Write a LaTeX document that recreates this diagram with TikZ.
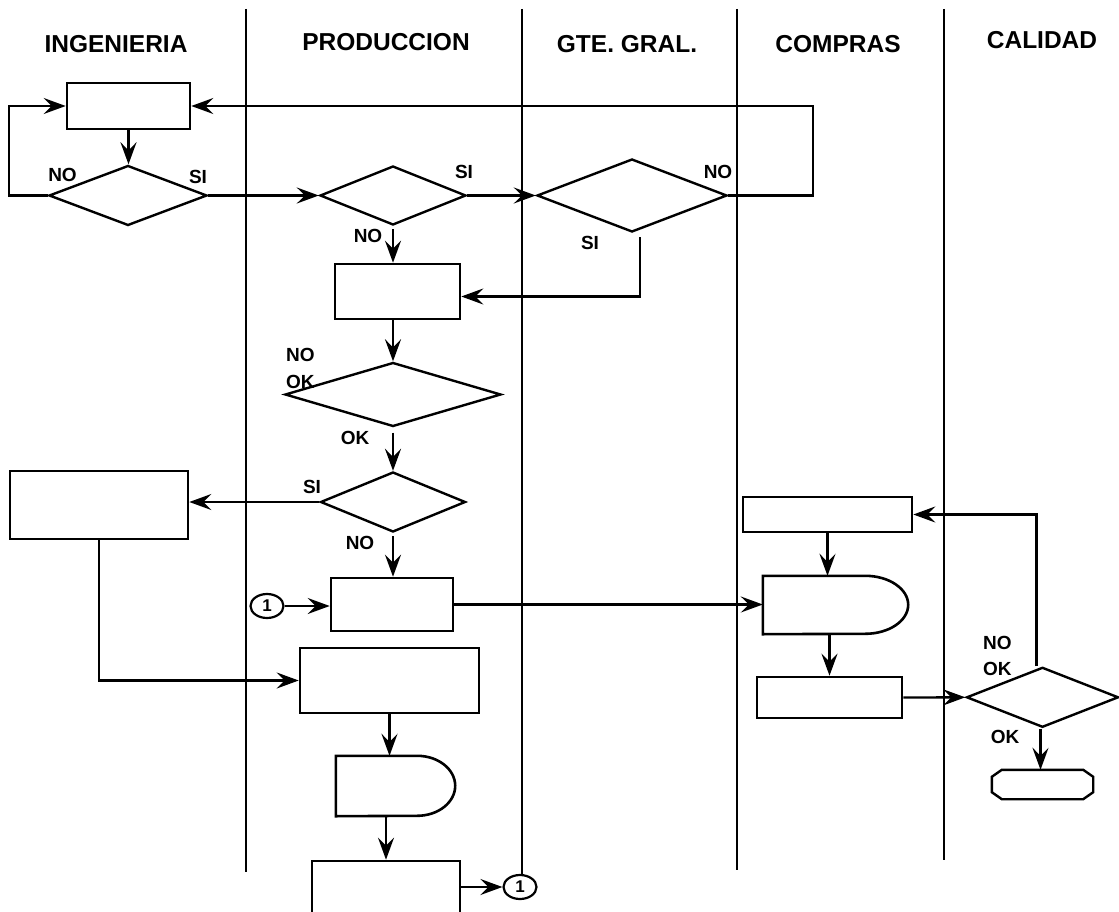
\documentclass[tikz,border=0pt]{standalone}
\usepackage{fontspec}
\setmainfont{Liberation Sans}
\usetikzlibrary{shapes.geometric,arrows.meta,calc}
\begin{document}
\begin{tikzpicture}[x=1pt,y=-1pt,
  box/.style={draw,line width=2.6pt,rectangle,inner sep=0pt},
  dia/.style={draw,line width=2.4pt,diamond,inner sep=0pt},
  ghost/.style={rectangle,inner sep=0pt,draw=none},
  con/.style={line width=2.3pt},
  arr/.style={con,-{Stealth[length=22pt,width=16pt,inset=8pt]}},
  lane/.style={line width=2.2pt},
  head/.style={font=\fontsize{24.5}{28}\selectfont\bfseries,inner sep=0pt},
  lab/.style={font=\fontsize{19}{22}\selectfont\bfseries,inner sep=0pt},
  conn/.style={draw,ellipse,line width=2.2pt,inner sep=0pt,minimum width=33pt,minimum height=24pt,font=\fontsize{17}{19}\selectfont\bfseries}]
\useasboundingbox (0,0) rectangle (1119,912);
\fill[white] (0,0) rectangle (1119,912);
\clip (0,0) rectangle (1119,912);

% lanes
\draw[lane] (246,9) -- (246,872);
\draw[lane] (522,9) -- (522,874);
\draw[lane] (737,9) -- (737,870);
\draw[lane] (944,9) -- (944,860);

% headers
\node[head] (hIng) at (116,44) {INGENIERIA};
\node[head] (hPro) at (386,42) {PRODUCCION};
\node[head] (hGte) at (627,44) {GTE. GRAL.};
\node[head] (hCom) at (838,44) {COMPRAS};
\node[head] (hCal) at (1042,40) {CALIDAD};

% shapes
\node[box,minimum width=123pt,minimum height=46pt] (b1) at (128.5,106) {};
\node[dia,minimum width=158pt,minimum height=60pt] (d1) at (128,195.5) {};
\node[dia,minimum width=146pt,minimum height=59pt] (d2) at (393,195.5) {};
\node[dia,minimum width=190pt,minimum height=73pt] (d3) at (632,195.5) {};
\node[box,minimum width=125pt,minimum height=55pt] (b2) at (397.5,291.5) {};
\node[dia,minimum width=216pt,minimum height=64pt] (d4) at (393,394.5) {};
\node[dia,minimum width=145pt,minimum height=60pt] (d5) at (393,502) {};
\node[box,minimum width=178pt,minimum height=68pt] (b4) at (99,505) {};
\node[box,minimum width=122pt,minimum height=53pt] (b3) at (392,604.5) {};
\node[conn] (c1) at (267,606) {1};
\node[box,minimum width=179pt,minimum height=65pt] (b6) at (389.5,680.5) {};
\node[ghost,minimum width=119pt,minimum height=60pt] (dl1) at (395.5,786) {};
\node[box,minimum width=148pt,minimum height=78pt] (b7) at (386,900) {};
\node[conn] (c2) at (520,887) {1};
\node[box,minimum width=169pt,minimum height=35pt] (b8) at (827.5,514.5) {};
\node[ghost,minimum width=145pt,minimum height=58pt] (dl2) at (835.5,605) {};
\node[box,minimum width=145pt,minimum height=41pt] (b9) at (829.5,697.5) {};
\node[dia,minimum width=152pt,minimum height=60pt] (d6) at (1042.5,697.3) {};
\node[ghost,minimum width=101pt,minimum height=29pt] (term) at (1042.5,784.5) {};

% delay shapes
\draw[line width=2.6pt] (dl1.north west) -- ([xshift=-38pt]dl1.north east)
  arc[start angle=90,end angle=-90,x radius=38pt,y radius=30pt] -- (dl1.south west) -- cycle;
\draw[line width=2.6pt] (dl2.north west) -- ([xshift=-43pt]dl2.north east)
  arc[start angle=90,end angle=-90,x radius=43pt,y radius=29pt] -- (dl2.south west) -- cycle;
% terminal
\draw[line width=2.4pt] ([xshift=10pt]term.north west) -- ([xshift=-10pt]term.north east)
  -- ([yshift=-7pt]term.north east) -- ([yshift=7pt]term.south east)
  -- ([xshift=-10pt]term.south east) -- ([xshift=10pt]term.south west)
  -- ([yshift=7pt]term.south west) -- ([yshift=-7pt]term.north west) -- cycle;

% connectors
\draw[arr] (b1.south) -- (b1.south |- d1.north);
\draw[arr] (d1.west) -- (9,195.5) |- (b1.west);
\draw[arr] (d1.east) -- (d2.west);
\draw[arr] (d2.east) -- (d3.west);
\draw[arr] (d3.east) -- (813,195.5) |- (b1.east);
\draw[arr] ([yshift=-3pt]d2.south) -- (d2.south |- b2.north);
\draw[arr] ([xshift=8pt,yshift=-4pt]d3.south) |- ([yshift=-5pt]b2.east);
\draw[arr] (b2.south -| d4.north) -- (d4.north);
\draw[arr] ([yshift=-5pt]d4.south) -- (d5.north);
\draw[arr] (d5.west) -- (d5.west -| b4.east);
\draw[arr] ([yshift=-3pt]d5.south) -- (d5.south |- b3.north);
\draw[arr] (c1.east) -- (c1.east -| b3.west);
\draw[arr] (b3.east) -- (b3.east -| dl2.west);
\draw[arr] (b4.south) |- (b6.west);
\draw[arr] (b6.south) -- (b6.south |- dl1.north);
\draw[arr] (b7.north |- dl1.south) -- (b7.north);
\draw[arr] (b7.east |- c2.west) -- (c2.west);
\draw[arr] (b8.south) -- (b8.south |- dl2.north);
\draw[arr] (b9.north |- dl2.south) -- (b9.north);
\draw[arr] (b9.east) -- (d6.west);
\draw[arr] ([xshift=-6pt]d6.north) |- (b8.east);
\draw[arr] ([xshift=-2pt]d6.south) -- ([xshift=-2pt]d6.south |- term.north);

% labels
\node[lab] (l1) at (62.5,175) {NO};
\node[lab] (l2) at (198,177) {SI};
\node[lab] (l3) at (464,172) {SI};
\node[lab] (l4) at (368,236) {NO};
\node[lab] (l5) at (718,172) {NO};
\node[lab] (l6) at (590,243) {SI};
\node[lab,anchor=west] (l7) at (286,355) {NO};
\node[lab,anchor=west] (l8) at (286,382) {OK};
\node[lab] (l9) at (355,438) {OK};
\node[lab] (l10) at (312,487) {SI};
\node[lab] (l11) at (360,543) {NO};
\node[lab,anchor=west] (l12) at (983,643) {NO};
\node[lab,anchor=west] (l13) at (983,669) {OK};
\node[lab] (l14) at (1005,737) {OK};
\end{tikzpicture}
\end{document}
